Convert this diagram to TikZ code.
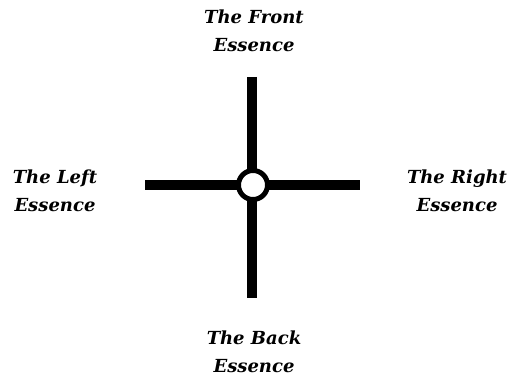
\documentclass[tikz,border=0pt]{standalone}
\usepackage{fontspec}
\setmainfont{DejaVu Serif}
\begin{document}
\begin{tikzpicture}[x=1pt,y=-1pt,
  lbl/.style={font=\fontsize{18}{28}\selectfont\bfseries\itshape, align=center, inner sep=0pt},
  bar/.style={line width=10pt, black},
  hub/.style={circle, draw=black, line width=5pt, fill=white, minimum size=29pt, inner sep=0pt}]
\useasboundingbox (0,0) rectangle (510,379);
\coordinate (t) at (252,77);
\coordinate (b) at (252,298);
\coordinate (l) at (145,185);
\coordinate (r) at (360,185);
\draw[bar] (t) -- (b);
\draw[bar] (l) -- (r);
\node[hub] (c) at (253,185) {};
\node[lbl] (front) at (254,31) {The Front\\Essence};
\node[lbl] (left) at (55,191) {The Left\\Essence};
\node[lbl] (right) at (457,191) {The Right\\Essence};
\node[lbl] (back) at (254,352) {The Back\\Essence};
\end{tikzpicture}
\end{document}
